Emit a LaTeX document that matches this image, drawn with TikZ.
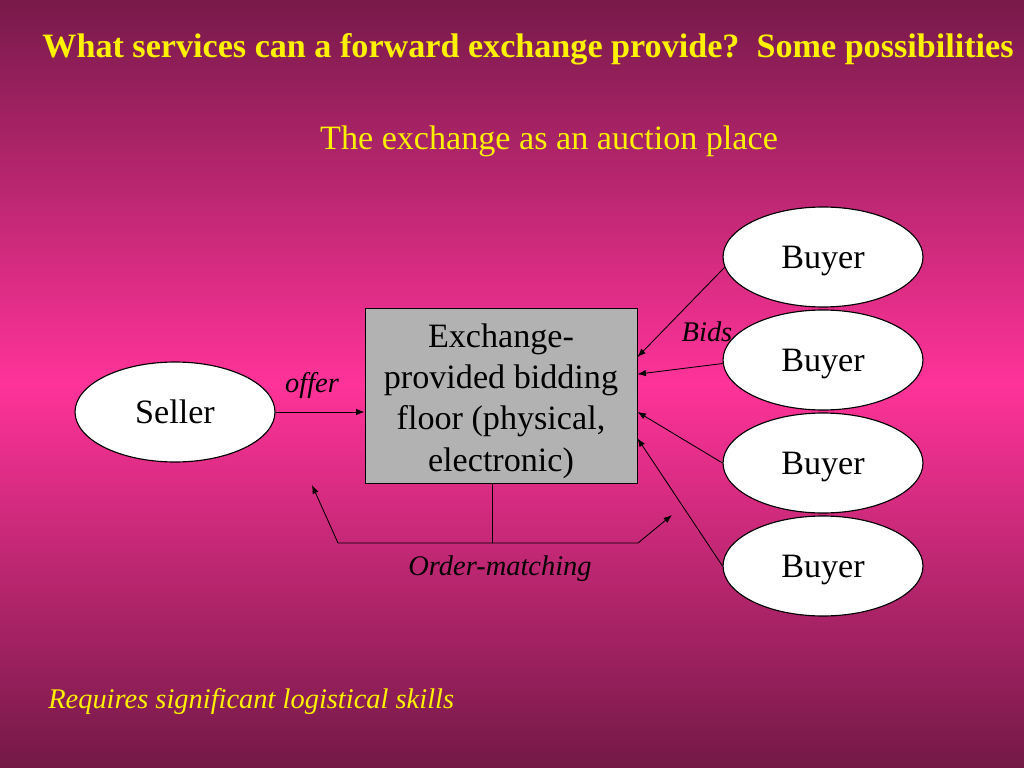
\documentclass[tikz,border=0pt]{standalone}
\usepackage{fontspec}
\setmainfont{Liberation Serif}
\usetikzlibrary{shapes.geometric,arrows.meta}

\definecolor{slidetop}{RGB}{120,26,74}
\definecolor{slidemid}{RGB}{255,51,153}
\definecolor{slidebot}{RGB}{115,25,70}
\definecolor{floorgray}{RGB}{178,178,178}

\pgfdeclareverticalshading{slidebg}{100bp}{color(0bp)=(slidebot); color(25bp)=(slidebot); color(50bp)=(slidemid); color(75bp)=(slidetop); color(100bp)=(slidetop)}

\tikzset{
  party/.style={ellipse, draw, thick, fill=white, minimum width=140.6pt, minimum height=70.3pt, inner sep=0pt, text depth=0pt, font=\fontsize{24}{28}\selectfont},
  tag/.style={font=\fontsize{20}{24}\selectfont\itshape},
  flow/.style={-{Latex[length=6pt,width=4.5pt]}, semithick}
}

\begin{document}
\begin{tikzpicture}[x=0.703125pt, y=-0.703125pt]
  % Background
  \begin{scope}[y=0.703125pt]
    \shade[shading=slidebg] (0,-768) rectangle (1024,0);
  \end{scope}
  \useasboundingbox (0,0) rectangle (1024,768);

  % Headings
  \node[text=yellow, font=\fontsize{24}{28}\selectfont\bfseries] (title) at (528,49)
    {What services can a forward exchange provide?\ \ Some possibilities};
  \node[text=yellow, font=\fontsize{24}{28}\selectfont] (sub) at (549,141) {The exchange as an auction place};

  % Box
  \node[draw, semithick, fill=floorgray, minimum width=191.25pt, minimum height=123pt] (box) at (501,395.5) {};
  \node[align=center, font=\fontsize{24}{29}\selectfont] (floor) at (501,401)
    {Exchange-\\provided bidding\\floor (physical,\\electronic)};

  % Parties
  \node[party] (seller) at (175,412) {Seller};
  \node[party] (b1) at (823,257) {Buyer};
  \node[party] (b2) at (823,360) {Buyer};
  \node[party] (b3) at (823,463) {Buyer};
  \node[party] (b4) at (823,566) {Buyer};

  % Offer and bids
  \draw[flow] (seller.east) -- (seller.east -| box.west);
  \node[tag] (offer) at (312,386) {offer};
  \draw[flow] (b1.186) -- ([yshift=27pt]box.east);
  \draw[flow] (b2.182) -- ([yshift=15pt]box.east);
  \draw[flow] (b3.west) -- ([yshift=-11.5pt]box.east);
  \draw[flow] (b4.west) -- ([yshift=-30pt]box.east);
  \node[tag] (bids) at (707,332) {Bids};

  % Order matching
  \coordinate (om) at (492,543);
  \coordinate (oml) at (312,485);
  \coordinate (omr) at (672,515);
  \draw[semithick] (om |- box.south) -- (om);
  \draw[flow] (om) -- (338,543) -- (oml);
  \draw[flow] (om) -- (638,543) -- (omr);
  \node[tag] (match) at (500,569) {Order-matching};

  % Footer
  \node[tag, text=yellow, anchor=west, inner sep=0pt] (skills) at (48,702) {Requires significant logistical skills};
\end{tikzpicture}
\end{document}
